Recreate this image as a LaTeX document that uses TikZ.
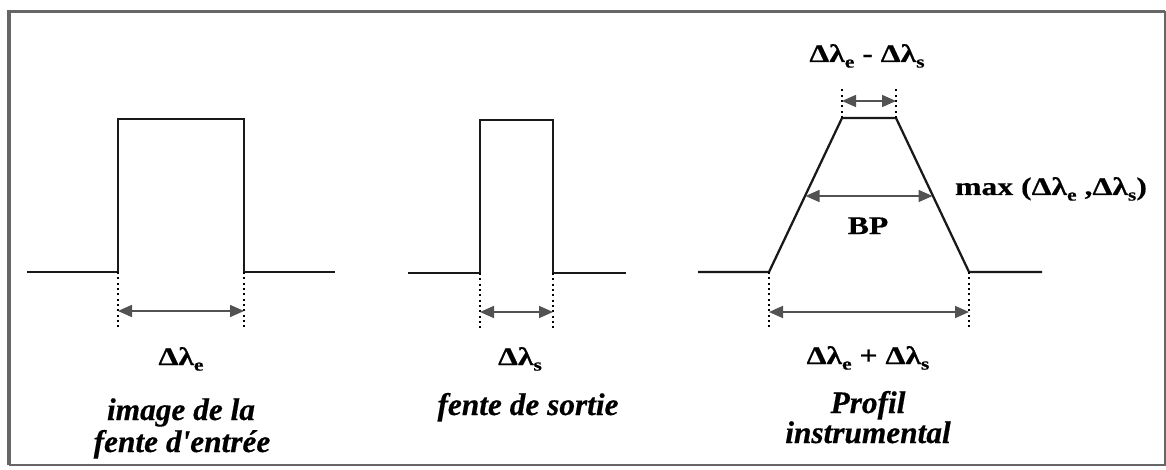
\documentclass[tikz,border=0pt]{standalone}
\usepackage{fontspec}
\setmainfont{Liberation Serif}
\newfontfamily\labfont[FakeStretch=1.25,FakeBold=0.6]{Liberation Serif}
\newfontfamily\capfont[FakeBold=0.5]{Liberation Serif}
\newcommand{\lsub}[1]{\raisebox{-0.22em}{\fontsize{13}{13}\selectfont #1}}
\usetikzlibrary{arrows.meta}
\begin{document}
\begin{tikzpicture}[x=0.75pt,y=-0.75pt,
  profile/.style={line width=1.7pt, black!90, line join=miter},
  dimarrow/.style={{Triangle[length=10.5pt,width=9pt]}-{Triangle[length=10.5pt,width=9pt]}, line width=1.2pt, black!68},
  guide/.style={line width=1.3pt, dash pattern=on 1.6pt off 2.4pt, black},
  lab/.style={font=\labfont\fontsize{19}{22}\selectfont\bfseries, inner sep=0pt, anchor=base},
  captext/.style={font=\capfont\fontsize{23.5}{25}\selectfont\bfseries\itshape, inner sep=0pt, anchor=base},
  framel/.style={black!60, line width=2.4pt},
  framer/.style={black!60, line width=1.5pt}]
\useasboundingbox (0,0) rectangle (1166,470);
% frame
\coordinate (fTL) at (9,11.5);
\coordinate (fTR) at (1165,11.5);
\coordinate (fBL) at (9,465);
\coordinate (fBR) at (1165,465);
\draw[framel] (fBL) -- (fTL) -- (fTR);
\draw[framer] (fTR) -- (fBR) -- (fBL);

% ---- profile 1 : image de la fente d'entree
\coordinate (a0) at (27,272);
\coordinate (a1) at (118,272);
\coordinate (a2) at (118,119);
\coordinate (a3) at (244,119);
\coordinate (a4) at (244,272);
\coordinate (a5) at (335,272);
\draw[profile] (a0) -- (a1) -- (a2) -- (a3) -- (a4) -- (a5);
\coordinate (a1d) at (118,328);
\coordinate (a4d) at (244,328);
\draw[guide] (a1) -- (a1d);
\draw[guide] (a4) -- (a4d);
\coordinate (a1m) at (118,311);
\coordinate (a4m) at (244,311);
\draw[dimarrow] (a1m) -- (a4m);
\node[lab] (le) at (181,365) {Δλ\lsub{e}};
\node[captext] (c1a) at (181,420) {image de la};
\node[captext] (c1b) at (182,452) {fente d\textquotesingle entrée};

% ---- profile 2 : fente de sortie
\coordinate (b0) at (408,273);
\coordinate (b1) at (480,273);
\coordinate (b2) at (480,120);
\coordinate (b3) at (553,120);
\coordinate (b4) at (553,273);
\coordinate (b5) at (626,273);
\draw[profile] (b0) -- (b1) -- (b2) -- (b3) -- (b4) -- (b5);
\coordinate (b1d) at (480,330);
\coordinate (b4d) at (553,330);
\draw[guide] (b1) -- (b1d);
\draw[guide] (b4) -- (b4d);
\coordinate (b1m) at (480,312);
\coordinate (b4m) at (553,312);
\draw[dimarrow] (b1m) -- (b4m);
\node[lab] (ls) at (520,365) {Δλ\lsub{s}};
\node[captext] (c2) at (528,415) {fente de sortie};

% ---- profile 3 : profil instrumental
\coordinate (t0) at (698,272);
\coordinate (t1) at (769,272);
\coordinate (t2) at (842,118);
\coordinate (t3) at (896,118);
\coordinate (t4) at (969,272);
\coordinate (t5) at (1042,272);
\draw[profile] (t0) -- (t1) -- (t2) -- (t3) -- (t4) -- (t5);
% bottom dimension
\coordinate (t1d) at (769,330);
\coordinate (t4d) at (969,330);
\draw[guide] (t1) -- (t1d);
\draw[guide] (t4) -- (t4d);
\coordinate (t1m) at (769,312);
\coordinate (t4m) at (969,312);
\draw[dimarrow] (t1m) -- (t4m);
% top dimension
\coordinate (t2u) at (842,87);
\coordinate (t3u) at (896,87);
\draw[guide] (t2) -- (t2u);
\draw[guide] (t3) -- (t3u);
\coordinate (t2m) at (842,101);
\coordinate (t3m) at (896,101);
\draw[dimarrow] (t2m) -- (t3m);
% half height
\coordinate (hl) at (805.5,196);
\coordinate (hr) at (932.5,196);
\draw[dimarrow] (hl) -- (hr);
\node[lab] (ldiff) at (867,62) {Δλ\lsub{e} - Δλ\lsub{s}};
\node[lab] (lmax) at (1051,195) {max (Δλ\lsub{e} ,Δλ\lsub{s})};
\node[lab] (lbp) at (868,234) {BP};
\node[lab] (lsum) at (868,364) {Δλ\lsub{e} + Δλ\lsub{s}};
\node[captext] (c3a) at (868,413) {Profil};
\node[captext] (c3b) at (868,443) {instrumental};
\end{tikzpicture}
\end{document}
